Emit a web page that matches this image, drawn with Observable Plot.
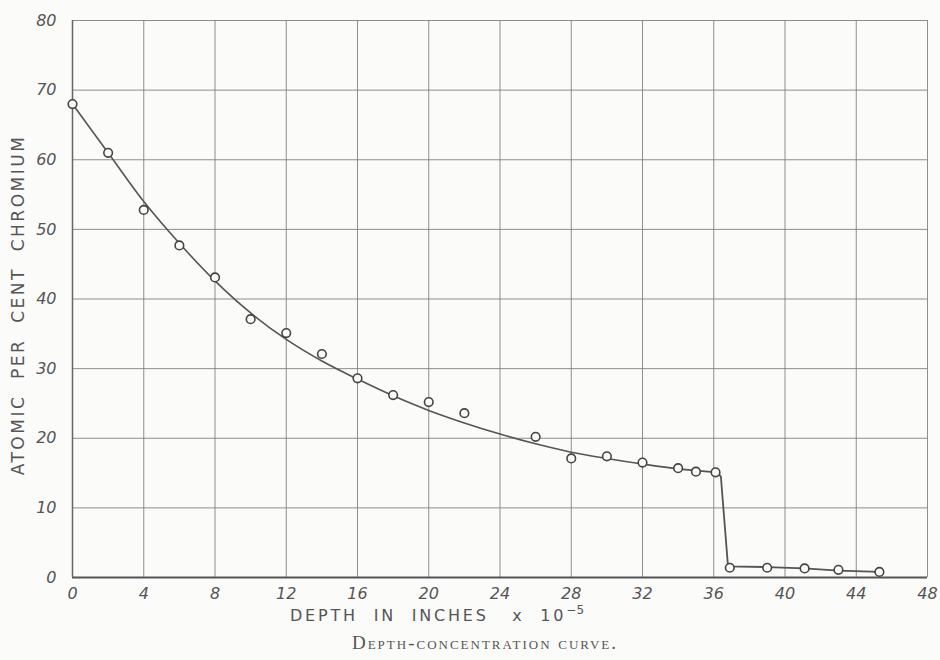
<!DOCTYPE html>
<html>
<head>
<meta charset="utf-8">
<script src="https://cdn.jsdelivr.net/npm/d3@7"></script>
<script src="https://cdn.jsdelivr.net/npm/@observablehq/plot@0.6"></script>
<style>
  html, body { margin: 0; padding: 0; background: #fbfbfa; }
  #chart { width: 940px; height: 660px; position: relative; }
  .cap { position: absolute; top: 632px; left: 0; width: 970px; text-align: center;
         font-family: "Liberation Serif", "DejaVu Serif", serif; color: #555; font-size: 19px;
         letter-spacing: 2px; font-variant: small-caps; }
</style>
</head>
<body>
<div id="chart"></div>
<script>
// Measured data points (depth ×10^-5 in, atomic % Cr)
const depth = [0, 2, 4, 6, 8, 10, 12, 14, 16, 18, 20, 22, 26, 28, 30, 32, 34, 35, 36.1, 36.9, 39, 41.1, 43, 45.3];
const chromium = [68, 61, 52.8, 47.7, 43.1, 37.1, 35.1, 32.1, 28.6, 26.2, 25.2, 23.6, 20.2, 17.1, 17.4, 16.5, 15.7, 15.2, 15.1, 1.4, 1.4, 1.3, 1.1, 0.8];

// Hand-drawn fitted curve
const curveX = [0, 2, 4, 6, 8, 10, 12, 14, 16, 18, 20, 22, 24, 26, 28, 30, 32, 34, 36.2];
const curveY = [68, 61, 54, 48, 42.6, 38, 34.2, 31.1, 28.5, 26.1, 24, 22.2, 20.6, 19.2, 18, 17.1, 16.3, 15.6, 15.1];
// Drop and tail segment
const tailX = [36.2, 36.4, 36.8, 39, 41.1, 43, 45.3];
const tailY = [15.1, 14.5, 1.6, 1.5, 1.3, 1.0, 0.8];

const xTicks = [0, 4, 8, 12, 16, 20, 24, 28, 32, 36, 40, 44, 48];
const yTicks = [0, 10, 20, 30, 40, 50, 60, 70, 80];

const points = depth.map((d, i) => ({x: d, y: chromium[i]}));
const curve = curveX.map((d, i) => ({x: d, y: curveY[i]}));
const tail = tailX.map((d, i) => ({x: d, y: tailY[i]}));

const ink = "#555";
const gridInk = "#7a7a7a";

const chart = Plot.plot({
  width: 940,
  height: 625,
  marginLeft: 72,
  marginRight: 13,
  marginTop: 20,
  marginBottom: 48,
  style: {background: "transparent", fontFamily: "DejaVu Sans, sans-serif", color: ink},
  x: {domain: [0, 48], ticks: xTicks},
  y: {domain: [0, 80], ticks: yTicks},
  marks: [
    Plot.gridX(xTicks, {stroke: gridInk, strokeOpacity: 0.85, strokeWidth: 1}),
    Plot.gridY(yTicks, {stroke: gridInk, strokeOpacity: 0.85, strokeWidth: 1}),
    Plot.ruleY([0], {stroke: "#555", strokeWidth: 2}),
    Plot.ruleX([0], {stroke: "#666", strokeWidth: 1.5}),
    Plot.axisX({ticks: xTicks, tickSize: 0, tickPadding: 10, fontSize: 16, fontStyle: "italic", label: null, fill: ink}),
    Plot.axisY({ticks: yTicks, tickSize: 0, tickPadding: 16, fontSize: 16, fontStyle: "italic", label: null, fill: ink}),
    Plot.line(curve, {x: "x", y: "y", curve: "catmull-rom", stroke: "#555", strokeWidth: 1.6}),
    Plot.line(tail, {x: "x", y: "y", stroke: "#555", strokeWidth: 1.8}),
    Plot.dot(points, {x: "x", y: "y", r: 4.3, stroke: "#444", strokeWidth: 1.6, fill: "#fbfbfa"})
  ]
});

document.getElementById("chart").appendChild(chart);

const svg = d3.select(chart);
// Y axis title
svg.append("text")
  .attr("transform", "translate(24, 305) rotate(-90)")
  .attr("text-anchor", "middle")
  .attr("font-size", 17)
  .attr("letter-spacing", "2.5px")
  .attr("fill", ink)
  .text("ATOMIC  PER  CENT  CHROMIUM");
// X axis title
const xl = svg.append("text")
  .attr("x", 290)
  .attr("y", 621)
  .attr("text-anchor", "start")
  .attr("font-size", 16)
  .attr("letter-spacing", "2.8px")
  .attr("fill", ink)
  .attr("xml:space", "preserve");
xl.append("tspan").text("DEPTH  IN  INCHES   x  10");
xl.append("tspan").attr("dy", -7).attr("font-size", 12).attr("letter-spacing", "0px").text("−5");

const cap = document.createElement("div");
cap.className = "cap";
cap.textContent = "Depth-concentration curve.";
document.getElementById("chart").appendChild(cap);
</script>
</body>
</html>
